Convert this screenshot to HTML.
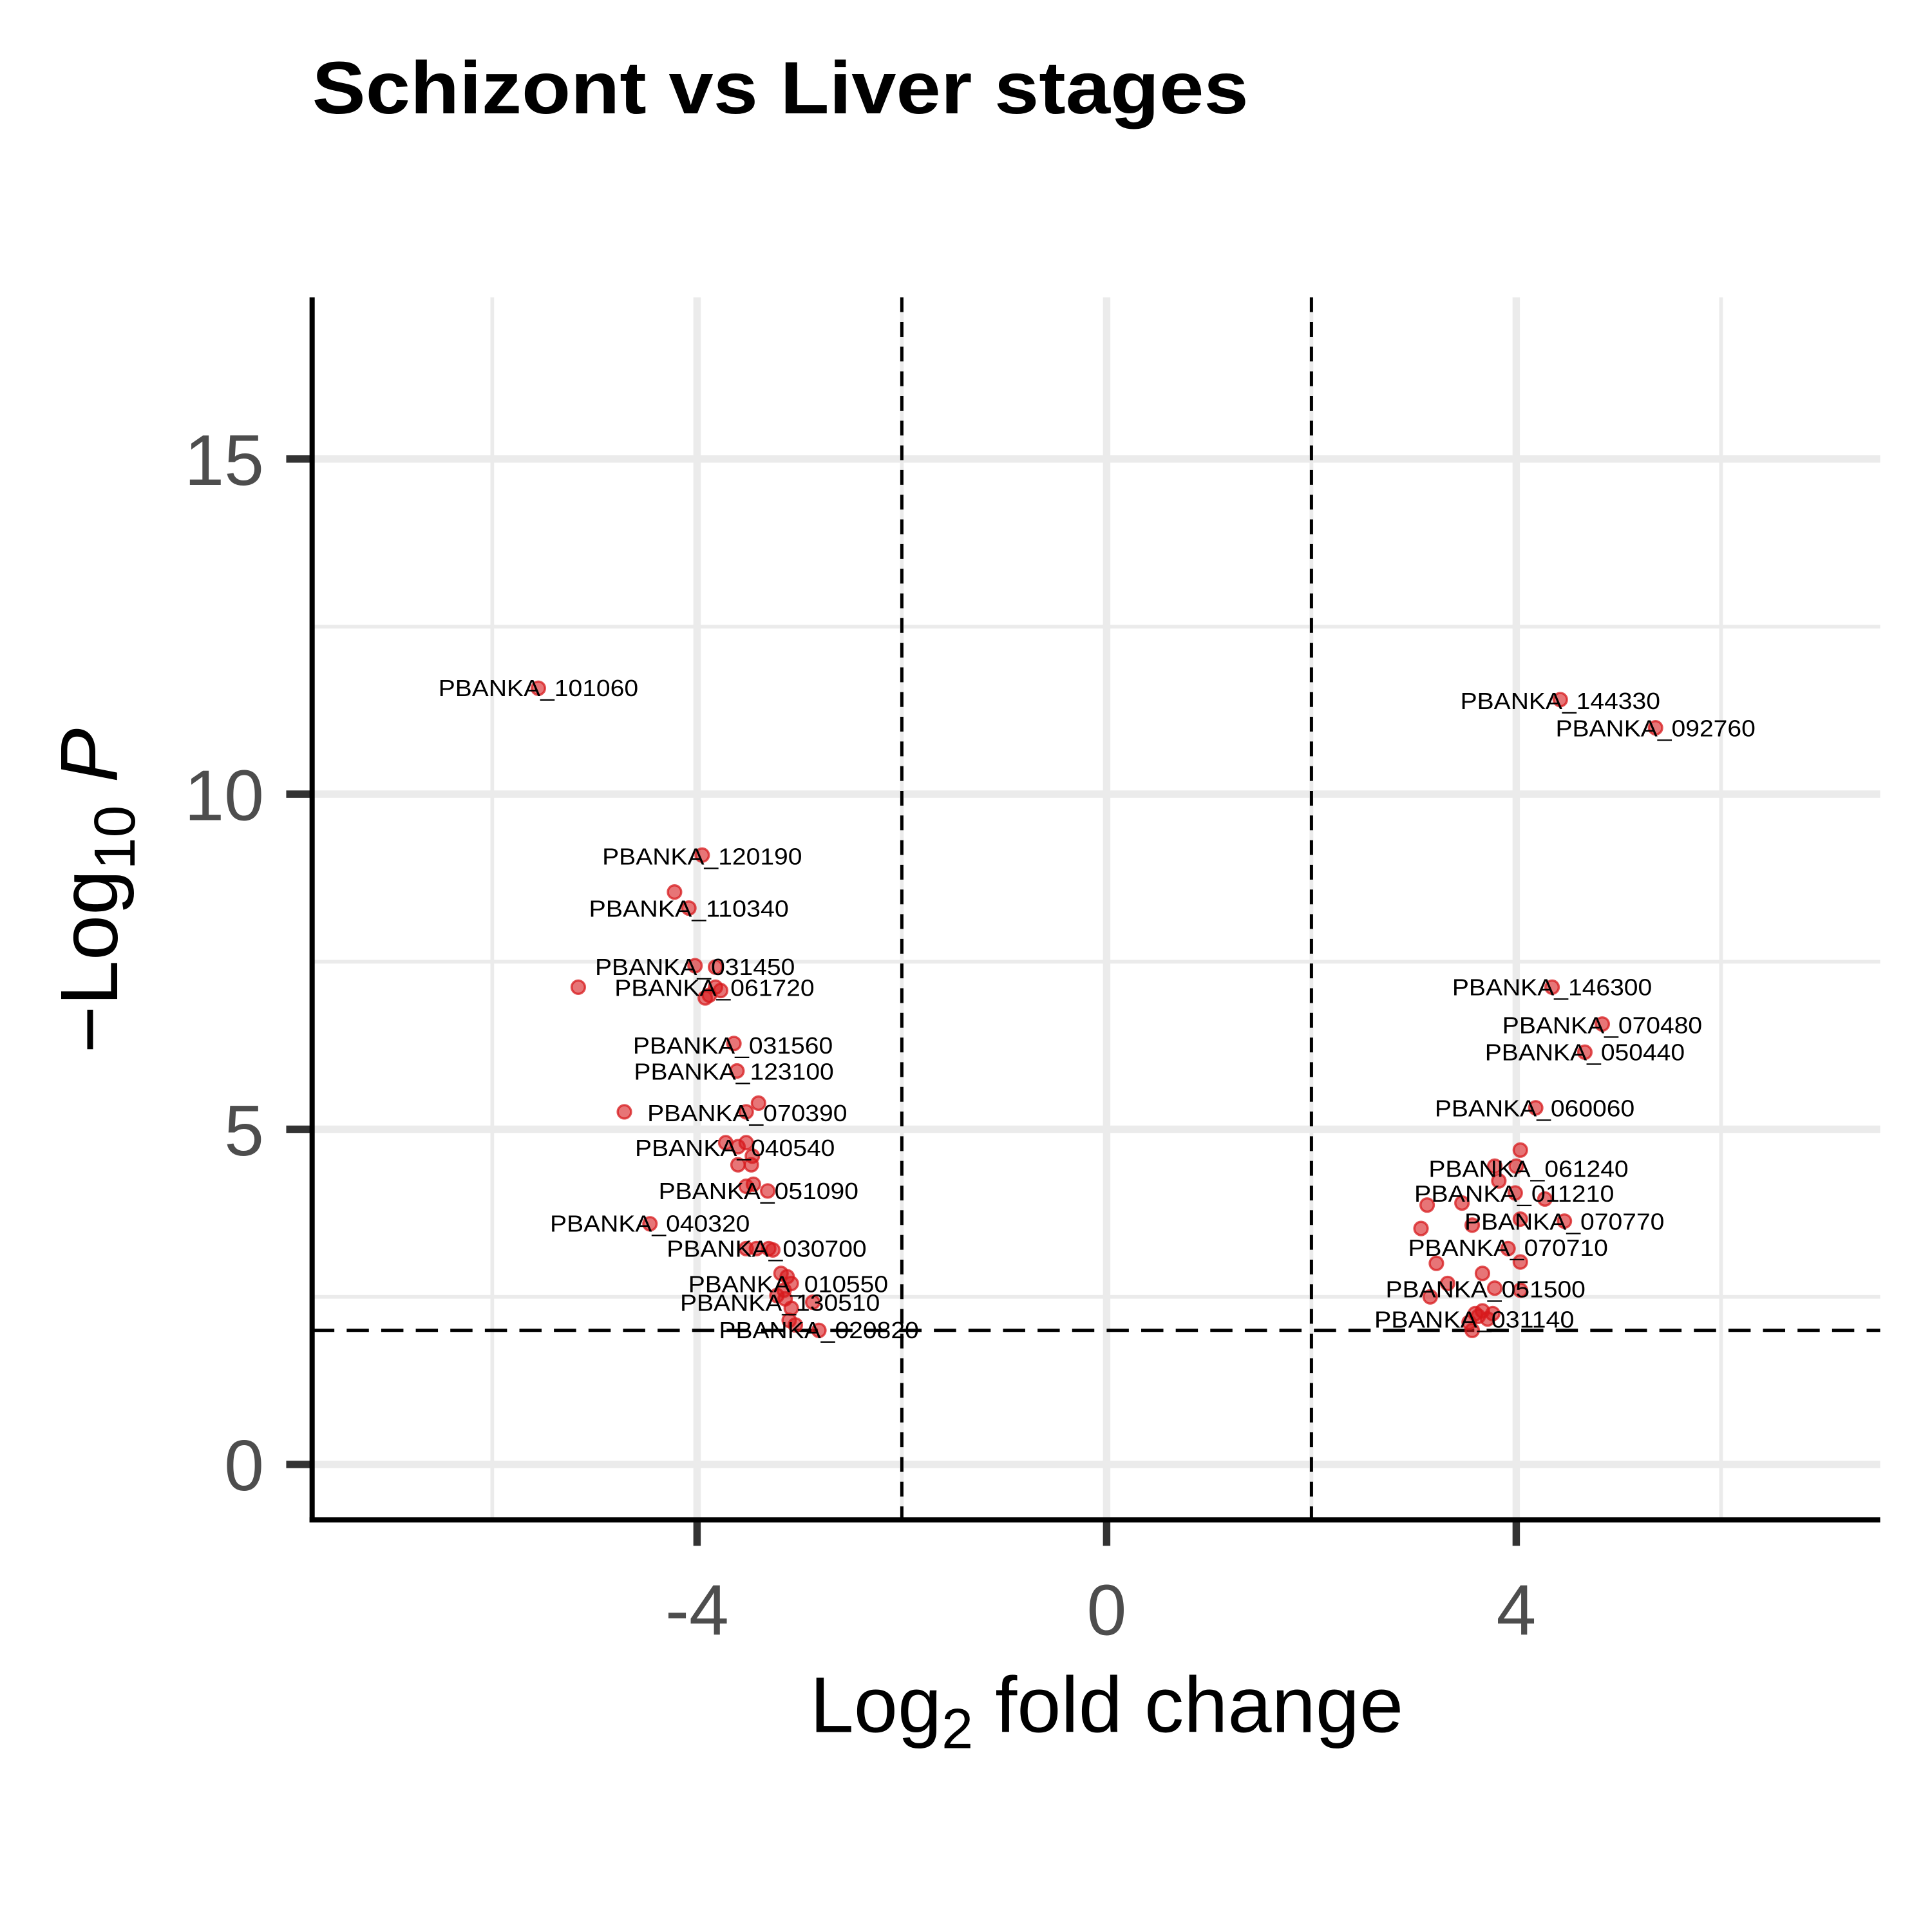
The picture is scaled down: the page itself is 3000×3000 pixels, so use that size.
<!DOCTYPE html>
<html><head><meta charset="utf-8"><style>
html,body{margin:0;padding:0;background:#fff;}
svg{display:block;font-family:"Liberation Sans",sans-serif;}
</style></head><body>
<svg id="chart" width="3000" height="3000" viewBox="0 0 1566 1566" xmlns="http://www.w3.org/2000/svg">
<g id="grid"></g>
<g id="refs"></g>
<g id="pts"></g>
<g id="labs"></g>
<g id="axes"></g>
<text x="253" y="92" font-size="60" font-weight="bold" textLength="759" lengthAdjust="spacingAndGlyphs">Schizont vs Liver stages</text>
<text x="897" y="1404" font-size="64" text-anchor="middle">Log<tspan font-size="46" dy="13">2</tspan><tspan dy="-13"> fold change</tspan></text>
<text transform="translate(95,722) rotate(-90)" font-size="66" text-anchor="middle">−Log<tspan font-size="47" dy="14">10</tspan><tspan dy="-14" font-style="italic"> P</tspan></text>
</svg>
<script>
const xTicks=[-4,0,4];
const xMinor=[-6,-2,2,6];
const yTicks=[0,5,10,15];
const yMinor=[2.5,7.5,12.5];
const fcCut=[-2,2];
const pCut=[2];
const log2fc=[-5.55,-5.16,-4.71,-4.46,-4.22,-4.08,-3.95,-4.02,-3.82,-3.82,-3.92,-3.88,-3.77,-3.64,-3.61,-3.40,-3.52,-3.72,-3.60,-3.52,-3.46,-3.60,-3.47,-3.52,-3.45,-3.31,-3.52,-3.42,-3.30,-3.26,-3.18,-3.12,-3.08,-3.22,-3.14,-3.08,-3.10,-3.04,-2.87,-2.81,-3.15,
4.43,5.36,4.35,4.84,4.67,4.19,4.04,3.79,4.00,3.83,3.99,4.28,3.13,3.47,4.04,4.47,3.57,3.07,3.92,4.04,3.22,3.67,3.33,3.79,4.04,3.16,3.60,3.67,3.54,3.63,3.77,3.57,3.72];
const negLogP=[11.58,7.12,5.26,3.59,8.54,8.30,9.09,7.44,7.42,7.12,6.96,7.0,7.07,6.28,5.87,5.39,5.26,4.80,4.74,4.80,4.60,4.47,4.47,4.15,4.18,4.08,3.22,3.22,3.22,3.20,2.85,2.80,2.70,2.52,2.47,2.33,2.15,2.08,2.42,2.00,2.60,
11.41,10.99,7.12,6.57,6.15,5.32,4.69,4.45,4.45,4.23,4.05,3.96,3.87,3.90,3.66,3.63,3.57,3.52,3.22,3.02,3.00,2.85,2.70,2.63,2.60,2.50,2.25,2.29,2.12,2.21,2.25,2.00,2.17];
const labelNames=["PBANKA_101060","PBANKA_144330","PBANKA_092760","PBANKA_120190","PBANKA_110340","PBANKA_031450","PBANKA_061720","PBANKA_031560","PBANKA_123100","PBANKA_070390","PBANKA_040540","PBANKA_051090","PBANKA_040320","PBANKA_030700","PBANKA_010550","PBANKA_130510","PBANKA_020820","PBANKA_146300","PBANKA_070480","PBANKA_050440","PBANKA_060060","PBANKA_061240","PBANKA_011210","PBANKA_070770","PBANKA_070710","PBANKA_051500","PBANKA_031140"];
const labelX=[-5.55,4.43,5.36,-3.95,-4.08,-4.02,-3.83,-3.65,-3.64,-3.51,-3.63,-3.40,-4.46,-3.32,-3.11,-3.19,-2.81,4.35,4.84,4.67,4.18,4.12,3.98,4.47,3.92,3.70,3.59];
const labelY=[11.58,11.39,10.98,9.07,8.29,7.42,7.11,6.25,5.86,5.24,4.72,4.08,3.59,3.22,2.69,2.41,2.00,7.12,6.55,6.15,5.31,4.41,4.04,3.62,3.23,2.61,2.16];
const NS="http://www.w3.org/2000/svg";
const L=253,R=1524,T=241,B=1232;
const sx=v=>897+v*83;
const sy=v=>1187-v*54.33;
function mk(tag,attrs,parent){const e=document.createElementNS(NS,tag);for(const k in attrs)e.setAttribute(k,attrs[k]);parent.appendChild(e);return e;}
const grid=document.getElementById('grid'),refs=document.getElementById('refs'),pts=document.getElementById('pts'),labs=document.getElementById('labs'),axes=document.getElementById('axes');
xMinor.forEach(v=>{const e=mk('line',{x1:sx(v),x2:sx(v),y1:T,y2:B,stroke:'#ebebeb','stroke-width':3},grid);

});
yMinor.forEach(v=>{const e=mk('line',{x1:L,x2:R,y1:sy(v),y2:sy(v),stroke:'#ebebeb','stroke-width':3},grid);

});
xTicks.forEach(v=>{const e=mk('line',{x1:sx(v),x2:sx(v),y1:T,y2:B,stroke:'#ebebeb','stroke-width':6},grid);


const t=mk('line',{x1:sx(v),x2:sx(v),y1:B,y2:B+21,stroke:'#333','stroke-width':6},axes);


const tx=mk('text',{x:sx(v),y:1325,'font-size':58,fill:'#4d4d4d','text-anchor':'middle'},axes);tx.textContent=(v<0?'-':'')+Math.abs(v);

});
yTicks.forEach(v=>{const e=mk('line',{x1:L,x2:R,y1:sy(v),y2:sy(v),stroke:'#ebebeb','stroke-width':6},grid);


const t=mk('line',{x1:L-21,x2:L,y1:sy(v),y2:sy(v),stroke:'#333','stroke-width':6},axes);


const tx=mk('text',{x:214,y:sy(v)+21,'font-size':58,fill:'#4d4d4d','text-anchor':'end'},axes);tx.textContent=v;

});
fcCut.forEach(v=>{const e=mk('line',{x1:sx(v),x2:sx(v),y1:T,y2:B,stroke:'#000','stroke-width':2.6,'stroke-dasharray':'12 8'},refs);

});
pCut.forEach(v=>{const e=mk('line',{x1:L,x2:R,y1:sy(v),y2:sy(v),stroke:'#000','stroke-width':2.6,'stroke-dasharray':'18 10'},refs);

});
log2fc.forEach((v,i)=>{const c=mk('circle',{cx:sx(v),cy:sy(negLogP[i]),r:5.4,fill:'rgba(215,25,28,0.6)',stroke:'rgba(215,25,28,0.75)','stroke-width':1.8},pts);

});
labelNames.forEach((n,i)=>{const t=mk('text',{x:sx(labelX[i]),y:sy(labelY[i])+6.5,'font-size':19,'text-anchor':'middle',textLength:162,lengthAdjust:'spacingAndGlyphs'},labs);t.textContent=n;

});
const ya=mk('line',{x1:L,x2:L,y1:T,y2:B+2,stroke:'#000','stroke-width':4.2},axes);


const xa=mk('line',{x1:L-2.1,x2:R,y1:B,y2:B,stroke:'#000','stroke-width':4.2},axes);


</script>
</body></html>
